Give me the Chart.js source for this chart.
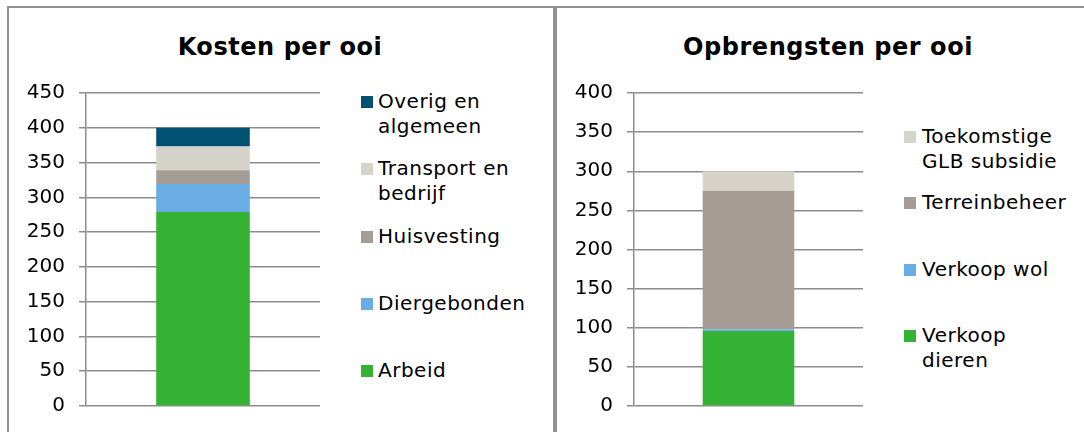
<!DOCTYPE html>
<html>
<head>
<meta charset="utf-8">
<script src="https://cdn.jsdelivr.net/npm/chart.js@4/dist/chart.umd.min.js"></script>
<style>
  html, body { margin: 0; padding: 0; background: #fff; }
  body { width: 1084px; height: 432px; position: relative; overflow: hidden; font-family: "DejaVu Sans", Verdana, sans-serif; }
  .frame { position: absolute; top: 6px; height: 500px; border: 2px solid #909090; box-sizing: border-box; }
  .title { position: absolute; width: 420px; text-align: center; font-weight: bold; font-size: 24px; line-height: 24px; letter-spacing: 0.55px; color: #000; white-space: nowrap; }
  canvas { position: absolute; top: 0; }
  .leg { position: absolute; font-size: 20px; line-height: 25px; letter-spacing: 0.5px; color: #000; white-space: nowrap; }
  .sq { position: absolute; width: 12px; height: 12px; }
</style>
</head>
<body>
<div class="frame" style="left:7px;width:548px;"></div>
<div class="frame" style="left:555px;width:600px;"></div>
<div class="title" id="t1" style="left:70px;top:35px;"></div>
<div class="title" id="t2" style="left:618px;top:35px;"></div>
<canvas id="c1" width="340" height="432" style="left:0px;"></canvas>
<canvas id="c2" width="343" height="432" style="left:540px;"></canvas>
<div id="legends"></div>
<script>
// ---- data ----
const kostenTitle = 'Kosten per ooi';
const kostenCategories = [''];
const kostenLabels = [['Arbeid'], ['Diergebonden'], ['Huisvesting'], ['Transport en', 'bedrijf'], ['Overig en', 'algemeen']];
const kostenValues = [279, 40, 20, 34, 27];
const kostenColors = ['#34b233', '#6aade4', '#a59c95', '#d6d3ca', '#005172'];
const kostenTicks = { min: 0, max: 450, step: 50 };

const opbrTitle = 'Opbrengsten per ooi';
const opbrCategories = [''];
const opbrLabels = [['Verkoop', 'dieren'], ['Verkoop wol'], ['Terreinbeheer'], ['Toekomstige', 'GLB subsidie']];
const opbrValues = [96, 2, 177, 25];
const opbrColors = ['#34b233', '#6aade4', '#a59c95', '#d6d3ca'];
const opbrTicks = { min: 0, max: 400, step: 50 };

const FONT = "'DejaVu Sans', Verdana, sans-serif";
const GRID = '#8c8c8c';

function makeChart(id, cats, labels, values, colors, ticks, axisWidth) {
  const datasets = values.map((v, i) => ({
    label: labels[i].join(' '),
    data: [v],
    backgroundColor: colors[i],
    borderWidth: 0,
    categoryPercentage: 1,
    barPercentage: 0.4
  }));
  return new Chart(document.getElementById(id), {
    type: 'bar',
    data: { labels: cats, datasets },
    options: {
      responsive: false,
      animation: false,
      events: [],
      layout: { padding: { top: 93, bottom: 26, left: 0, right: 20 } },
      plugins: { legend: { display: false }, title: { display: false }, tooltip: { enabled: false } },
      scales: {
        x: { stacked: true, display: false },
        y: {
          stacked: true,
          min: ticks.min, max: ticks.max,
          afterFit: s => { s.width = axisWidth; },
          ticks: { stepSize: ticks.step, color: '#000', font: { family: FONT, size: 20 }, padding: 14 },
          grid: { color: GRID, lineWidth: 1.5, tickLength: 7, drawTicks: true },
          border: { display: true, color: GRID, width: 1.5 }
        }
      }
    }
  });
}

makeChart('c1', kostenCategories, kostenLabels, kostenValues, kostenColors, kostenTicks, 86);
makeChart('c2', opbrCategories, opbrLabels, opbrValues, opbrColors, opbrTicks, 94);

document.getElementById('t1').textContent = kostenTitle;
document.getElementById('t2').textContent = opbrTitle;

function makeLegend(labels, colors, sqX, textX, firstBaseline, gap) {
  const host = document.getElementById('legends');
  const n = labels.length;
  for (let k = 0; k < n; k++) {
    const i = n - 1 - k; // top of stack first
    const baseline = firstBaseline + k * gap;
    const sq = document.createElement('div');
    sq.className = 'sq';
    sq.style.left = sqX + 'px';
    sq.style.top = (baseline - 12.5) + 'px';
    sq.style.background = colors[i];
    host.appendChild(sq);
    const t = document.createElement('div');
    t.className = 'leg';
    t.style.left = textX + 'px';
    t.style.top = (baseline - 19.4) + 'px';
    labels[i].forEach((line, j) => {
      if (j) t.appendChild(document.createElement('br'));
      t.appendChild(document.createTextNode(line));
    });
    host.appendChild(t);
  }
}
makeLegend(kostenLabels, kostenColors, 361, 378, 108.5, 67.3);
makeLegend(opbrLabels, opbrColors, 904, 922, 143.3, 66.5);
</script>
</body>
</html>
